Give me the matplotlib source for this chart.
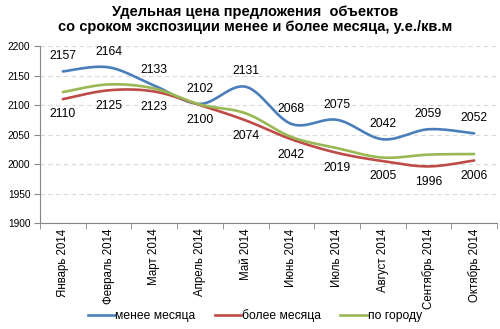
import numpy as np
import matplotlib
matplotlib.use("Agg")
import matplotlib.pyplot as plt
from matplotlib.lines import Line2D

plt.rcParams['font.family'] = ['Liberation Sans', 'DejaVu Sans']

months = ["Январь 2014", "Февраль 2014", "Март 2014", "Апрель 2014", "Май 2014",
          "Июнь 2014", "Июль 2014", "Август 2014", "Сентябрь 2014", "Октябрь 2014"]
less_month = [2157, 2164, 2133, 2102, 2131, 2068, 2075, 2042, 2059, 2052]
more_month = [2110, 2125, 2123, 2100, 2074, 2042, 2019, 2005, 1996, 2006]
city = [2122, 2135, 2128, 2101, 2086, 2046, 2027, 2011, 2016, 2017]

series = [
    ("менее месяца", less_month, "#4A7EBB"),
    ("более месяца", more_month, "#BE4B48"),
    ("по городу", city, "#98B954"),
]


def smooth(x, y, n=30):
    # cubic bezier through the points, excel-like smoothing
    x = np.asarray(x, float)
    y = np.asarray(y, float)
    px = np.concatenate([[x[0]], x, [x[-1]]])
    py = np.concatenate([[y[0]], y, [y[-1]]])
    xs, ys = [], []
    t = np.linspace(0, 1, n)
    for i in range(1, len(px) - 2):
        p0 = np.array([px[i], py[i]])
        p3 = np.array([px[i + 1], py[i + 1]])
        c1 = p0 + (np.array([px[i + 1], py[i + 1]]) - np.array([px[i - 1], py[i - 1]])) / 6
        c2 = p3 - (np.array([px[i + 2], py[i + 2]]) - p0) / 6
        b = ((1 - t) ** 3)[:, None] * p0 + (3 * (1 - t) ** 2 * t)[:, None] * c1 \
            + (3 * (1 - t) * t ** 2)[:, None] * c2 + (t ** 3)[:, None] * p3
        xs.extend(b[:, 0])
        ys.extend(b[:, 1])
    return np.array(xs), np.array(ys)


fig = plt.figure(figsize=(5, 3.29), dpi=100)
ax = fig.add_axes([0.08, 0.322, 0.914, 0.538])

x = np.arange(len(months))
for name, vals, color in series:
    sx, sy = smooth(x, vals)
    ax.plot(sx, sy, color=color, lw=1.9, solid_capstyle='round')

for i, v in enumerate(less_month):
    ax.annotate(str(v), (i, v), xytext=(0, 11), textcoords='offset points',
                ha='center', va='center', fontsize=8.8)
for i, v in enumerate(more_month):
    ax.annotate(str(v), (i, v), xytext=(0, -11), textcoords='offset points',
                ha='center', va='center', fontsize=8.8)

ax.set_xlim(-0.5, len(months) - 0.5)
ax.set_ylim(1900, 2200)
ax.set_yticks(np.arange(1900, 2201, 50))
ax.yaxis.grid(True, color='#d9d9d9', ls=(0, (4, 3)), lw=0.8)
ax.set_axisbelow(True)

ax.set_xticks(x)
ax.set_xticklabels(months, rotation=90, fontsize=8.3)
ax.set_xticks(np.arange(-0.5, len(months)), minor=True)
ax.tick_params(axis='x', which='major', length=0, pad=4)
ax.tick_params(axis='x', which='minor', length=4, color='#868686')
ax.tick_params(axis='y', length=4, color='#868686', labelsize=7.3, pad=3)

for s in ['top', 'right']:
    ax.spines[s].set_visible(False)
for s in ['left', 'bottom']:
    ax.spines[s].set_color('#868686')

fig.text(0.51, 0.985, "Удельная цена предложения  объектов\nсо сроком экспозиции менее и более месяца, у.е./кв.м",
         ha='center', va='top', fontsize=10.5, fontweight='bold', linespacing=1.1)

handles = [Line2D([], [], color=c, lw=1.9) for _, _, c in series]
fig.legend(handles, [n for n, _, _ in series], loc='center', bbox_to_anchor=(0.51, 0.04),
           ncol=3, frameon=False, fontsize=8.7, handlelength=2.2, handletextpad=0.05,
           columnspacing=1.6)

fig.savefig("out.png", dpi=100)
